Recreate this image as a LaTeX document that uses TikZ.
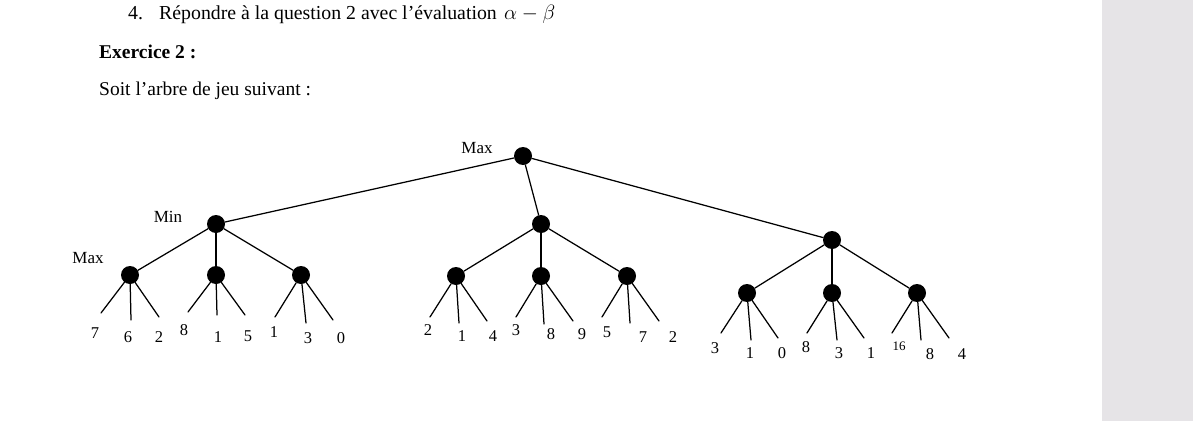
\documentclass[tikz,border=0pt]{standalone}
\usepackage{fontspec}
\setmainfont{Liberation Serif}
\definecolor{panelgray}{HTML}{E6E4E7}
\begin{document}
\begin{tikzpicture}[x=1pt,y=-1pt,
  edge/.style={line width=1.25pt,line cap=round},
  dot/.style={circle,fill=black,minimum size=18pt,inner sep=0pt},
  lab/.style={font=\fontsize{17}{17}\selectfont,inner sep=0pt},
  leaf/.style={font=\fontsize{16.5}{16.5}\selectfont,inner sep=0pt},
  txt/.style={font=\fontsize{19.5}{20}\selectfont,inner sep=0pt,anchor=base west},
  htxt/.style={font=\fontsize{19.8}{20}\selectfont,inner sep=0pt,anchor=base west}]
\fill[white] (0,0) rectangle (1193,447);
\useasboundingbox (0,0) rectangle (1193,447);
\fill[panelgray] (1102,0) rectangle (1193,421);
% header text
\node[htxt] (n4) at (128,19) {4.};
\node[htxt] (q4) at (159,19) {Répondre à la question 2 avec l’évaluation};
\node[htxt] (ab) at (504,19) {$\alpha-\beta$};
\node[txt,font=\fontsize{19.5}{20}\selectfont\bfseries] (ex) at (99,58) {Exercice 2 :};
\node[txt] (soit) at (99,95) {Soit l’arbre de jeu suivant :};
% tree nodes
\node[dot] (R) at (523,156) {};
\node[dot] (A) at (216,224) {};
\node[dot] (B) at (541,224) {};
\node[dot] (C) at (832,240) {};
\node[dot] (a1) at (130,275) {};
\node[dot] (a2) at (216,275) {};
\node[dot] (a3) at (301,275) {};
\node[dot] (b1) at (456,276) {};
\node[dot] (b2) at (541,276) {};
\node[dot] (b3) at (627,276) {};
\node[dot] (c1) at (747,293) {};
\node[dot] (c2) at (832,293) {};
\node[dot] (c3) at (917,293) {};
% level labels
\node[lab] (lmax) at (477,148) {Max};
\node[lab] (lmin) at (168,217) {Min};
\node[lab] (lmax2) at (88,258) {Max};
% edges
\draw[edge] (R) -- (A);
\draw[edge] (R) -- (B);
\draw[edge] (R) -- (C);
\foreach \u in {1,2,3} {
  \draw[edge] (A) -- (a\u);
  \draw[edge] (B) -- (b\u);
  \draw[edge] (C) -- (c\u);
}
% leaves
\foreach \p/\i/\x/\y/\lx/\ly/\t in {
  a1/1/101/313/95/333/7, a1/2/131/320/128/337/6, a1/3/159/317/159/337/2,
  a2/1/188/312/184/330/8, a2/2/217/315/218/337/1, a2/3/245/315/248/336/5,
  a3/1/275/317/274/332/1, a3/2/306/323/308/338/3, a3/3/333/320/341/338/0,
  b1/1/430/317/428/330/2, b1/2/459/323/462/336/1, b1/3/487/321/493/336/4,
  b2/1/516/317/516/330/3, b2/2/544/324/551/334/8, b2/3/573/321/582/334/9,
  b3/1/602/317/607/332/5, b3/2/630/323/643/337/7, b3/3/659/321/673/337/2,
  c1/1/721/333/715/348/3, c1/2/751/340/750/353/1, c1/3/778/338/782/353/0,
  c2/1/807/333/806/347/8, c2/2/837/340/839/353/3, c2/3/864/338/871/353/1,
  c3/2/921/340/930/354/8, c3/3/949/338/962/354/4} {
  \coordinate (\p-\i) at (\x,\y);
  \node[leaf] (t-\p-\i) at (\lx,\ly) {\t};
  \draw[edge] (\p) -- (\p-\i);
}
\coordinate (c3-1) at (892,333);
\node[leaf,font=\fontsize{13}{13}\selectfont] (t-c3-1) at (899,346) {16};
\draw[edge] (c3) -- (c3-1);
\end{tikzpicture}
\end{document}
